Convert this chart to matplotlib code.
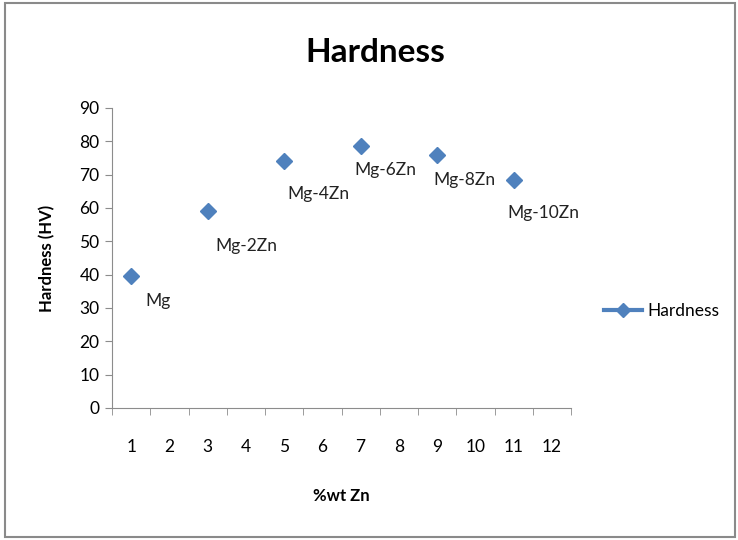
import matplotlib
matplotlib.use("Agg")
from matplotlib import pyplot as plt
from matplotlib.patches import Rectangle
from matplotlib.lines import Line2D

# data
wt_zn = [1, 3, 5, 7, 9, 11]
hardness = [39.5, 59, 74, 78.5, 76, 68.5]
alloys = ["Mg", "Mg-2Zn", "Mg-4Zn", "Mg-6Zn", "Mg-8Zn", "Mg-10Zn"]
label_offsets = [(14, -25), (8, -35), (3, -33), (-6, -24), (-4, -25), (-6, -33)]
x_ticks = list(range(1, 13))
y_ticks = list(range(0, 91, 10))

plt.rcParams['font.family'] = ['Lato', 'DejaVu Sans']
blue = "#4F81BD"
axis_col = "#8C8C8C"

fig = plt.figure(figsize=(7.38, 5.4), dpi=100)
ax = fig.add_axes([112/738, 132/540, (571-112)/738, 300/540])

ax.plot(wt_zn, hardness, linestyle="none", marker="D", markersize=8,
        color=blue, label="Hardness")
for x, y, name, (dx, dy) in zip(wt_zn, hardness, alloys, label_offsets):
    ax.annotate(name, (x, y), xytext=(dx, dy), textcoords="offset pixels",
                fontsize=12.5, color="#222222", va="center", ha="left")

ax.set_xlim(0.5, 12.5)
ax.set_ylim(0, 90)
ax.set_xticks(x_ticks)
ax.set_xticklabels([str(t) for t in x_ticks])
ax.set_xticks([t - 0.5 for t in x_ticks] + [12.5], minor=True)
ax.set_yticks(y_ticks)
ax.tick_params(axis="x", which="major", length=0, pad=22, labelsize=12.5)
ax.tick_params(axis="x", which="minor", length=5, color=axis_col, direction="out")
ax.tick_params(axis="y", length=5, color=axis_col, labelsize=12.5, pad=4)
for side in ["top", "right"]:
    ax.spines[side].set_visible(False)
for side in ["left", "bottom"]:
    ax.spines[side].set_color(axis_col)

ax.set_xlabel("%wt Zn", fontsize=12, fontweight="bold", labelpad=24)
ax.set_ylabel("Hardness (HV)", fontsize=12, fontweight="bold", labelpad=17)
fig.text(375/738, 1 - 52/540, "Hardness", fontsize=24, fontweight="bold",
         ha="center", va="center")

handle = Line2D([], [], color=blue, marker="D", markersize=7, linewidth=3)
fig.legend([handle], ["Hardness"], loc="center left",
           bbox_to_anchor=(588/738, 1 - 311/540), frameon=False,
           fontsize=12.5, handlelength=2.2, handletextpad=0.3)

fig.patches.append(Rectangle((5/738, 3/540), 730/738, 534/540, fill=False,
                             edgecolor="#8A8A8A", linewidth=1.5,
                             transform=fig.transFigure))

plt.savefig("out.png")
